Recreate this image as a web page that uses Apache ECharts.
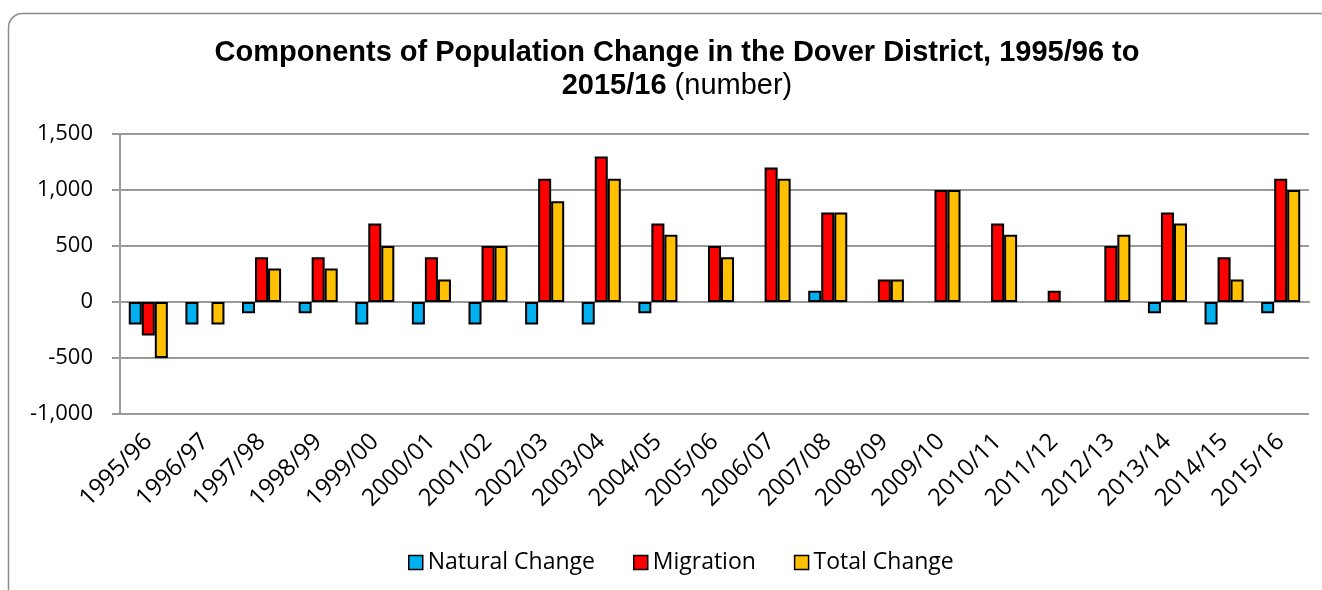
<!DOCTYPE html>
<html>
<head>
<meta charset="utf-8">
<script src="https://cdn.jsdelivr.net/npm/echarts@6/dist/echarts.min.js"></script>
<style>
    html, body { margin: 0; padding: 0; background: #fff; }
    #chart { width: 1322px; height: 590px; }
</style>
</head>
<body>
<div id="chart"></div>
<script>
// years on the x axis
const years = ['1995/96', '1996/97', '1997/98', '1998/99', '1999/00', '2000/01', '2001/02',
    '2002/03', '2003/04', '2004/05', '2005/06', '2006/07', '2007/08', '2008/09',
    '2009/10', '2010/11', '2011/12', '2012/13', '2013/14', '2014/15', '2015/16'];

const naturalChange = [-200, -200, -100, -100, -200, -200, -200, -200, -200, -100, 0,
    0, 100, 0, 0, 0, 0, 0, -100, -200, -100];
const migration = [-300, 0, 400, 400, 700, 400, 500, 1100, 1300, 700, 500,
    1200, 800, 200, 1000, 700, 100, 500, 800, 400, 1100];
const totalChange = [-500, -200, 300, 300, 500, 200, 500, 900, 1100, 600, 400,
    1100, 800, 200, 1000, 600, 0, 600, 700, 200, 1000];

const seriesNames = ['Natural Change', 'Migration', 'Total Change'];
const seriesColors = ['#00B0F0', '#FF0000', '#FFC000'];

// excel hides zero bars, so no border on them
function toData(arr) {
    return arr.map(function (v) {
        return v === 0 ? {value: 0, itemStyle: {borderWidth: 0}} : v;
    });
}

let myChart = echarts.init(document.getElementById('chart'));

const titleFont = 'Arial';
const labelFont = 'Open Sans';

myChart.setOption({
    animation: false,
    title: {
        text: '{b|Components of Population Change in the Dover District, 1995/96 to}\n{b|2015/16} {n|(number)}',
        // centre of the title, a bit right of the chart centre
        left: 672,
        top: 31,
        textAlign: 'center',
        textStyle: {
            fontFamily: titleFont,
            fontSize: 29,
            fontWeight: 'bold',
            color: '#000',
            rich: {
                b: {fontFamily: titleFont, fontWeight: 'bold', fontSize: 29, color: '#000', lineHeight: 33},
                n: {fontFamily: titleFont, fontWeight: 'normal', fontSize: 29, color: '#000', lineHeight: 33}
            }
        }
    },
    graphic: [{
        type: 'rect',
        shape: {x: 8.5, y: 13.5, width: 1340, height: 620, r: 14},
        style: {fill: 'none', stroke: '#8c8c8c', lineWidth: 1.5},
        silent: true
    }],
    legend: {
        bottom: 11,
        left: 403,
        icon: 'rect',
        itemWidth: 14,
        itemHeight: 14,
        itemGap: 38,
        data: seriesNames,
        itemStyle: {borderColor: '#000', borderWidth: 1.5},
        textStyle: {fontFamily: labelFont, fontSize: 23, color: '#000'}
    },
    grid: {left: 120, right: 13, top: 134, bottom: 176},
    xAxis: {
        type: 'category',
        data: years,
        axisLine: {onZero: true, lineStyle: {color: '#999', width: 2}},
        axisTick: {length: 8, lineStyle: {color: '#999', width: 2}},
        axisLabel: {
            interval: 0,
            rotate: 45,
            margin: 24,
            fontFamily: labelFont,
            fontSize: 24,
            color: '#000'
        }
    },
    yAxis: {
        type: 'value',
        min: -1000,
        max: 1500,
        interval: 500,
        axisLine: {show: true, lineStyle: {color: '#999', width: 2}},
        axisTick: {show: true, length: 8, lineStyle: {color: '#999', width: 2}},
        splitLine: {lineStyle: {color: '#999', width: 2}},
        axisLabel: {
            margin: 27,
            fontFamily: labelFont,
            fontSize: 22,
            color: '#000',
            formatter: function (v) {
                return v.toLocaleString('en-US');
            }
        }
    },
    series: [naturalChange, migration, totalChange].map(function (arr, i) {
        return {
            name: seriesNames[i],
            type: 'bar',
            data: toData(arr),
            barGap: '0%',
            barCategoryGap: '31%',
            itemStyle: {color: seriesColors[i], borderColor: '#000', borderWidth: 2}
        };
    })
});
</script>
</body>
</html>
